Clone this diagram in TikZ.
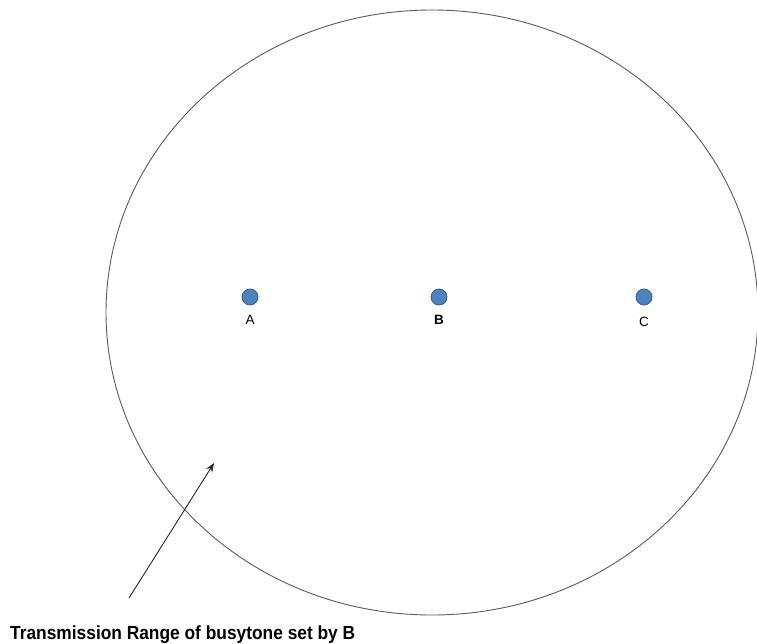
\documentclass[tikz,border=0pt]{standalone}
\usepackage{fontspec}
\setmainfont{Liberation Sans}
\usetikzlibrary{arrows.meta}
\definecolor{dotfill}{HTML}{4F81BD}
\definecolor{dotline}{HTML}{385D8A}
\definecolor{rangeline}{HTML}{5A5A5A}
\begin{document}
\begin{tikzpicture}[x=1pt,y=-1pt,
  station/.style={circle,draw=dotline,fill=dotfill,line width=0.8pt,minimum size=16pt,inner sep=0pt},
  stlabel/.style={font=\fontsize{13.5}{15}\selectfont,inner sep=0pt},
  rangeellipse/.style={draw=rangeline,line width=0.9pt},
  pointer/.style={draw=black!85,line width=0.9pt,-{Stealth[length=9pt,width=7pt]}}]
\useasboundingbox (0,0) rectangle (757,643);
\begin{scope}
\clip (0,0) rectangle (757,643);
\draw[rangeellipse] (432,312.5) ellipse [x radius=326, y radius=302.5];
\end{scope}
\node[station] (A) at (250,297) {};
\node[station] (B) at (439,297) {};
\node[station] (C) at (644,297) {};
\node[stlabel] (la) at (250,320) {A};
\node[stlabel] (lb) at (439,320) {\bfseries B};
\node[stlabel] (lc) at (644,322) {C};
\coordinate (tail) at (129,598);
\coordinate (head) at (214,463);
\draw[pointer] (tail) -- (head);
\node[anchor=base west,inner sep=0pt] (cap) at (10,639) {\resizebox{345pt}{\height}{\fontsize{19}{21}\selectfont\bfseries Transmission Range of busytone set by B}};
\end{tikzpicture}
\end{document}
